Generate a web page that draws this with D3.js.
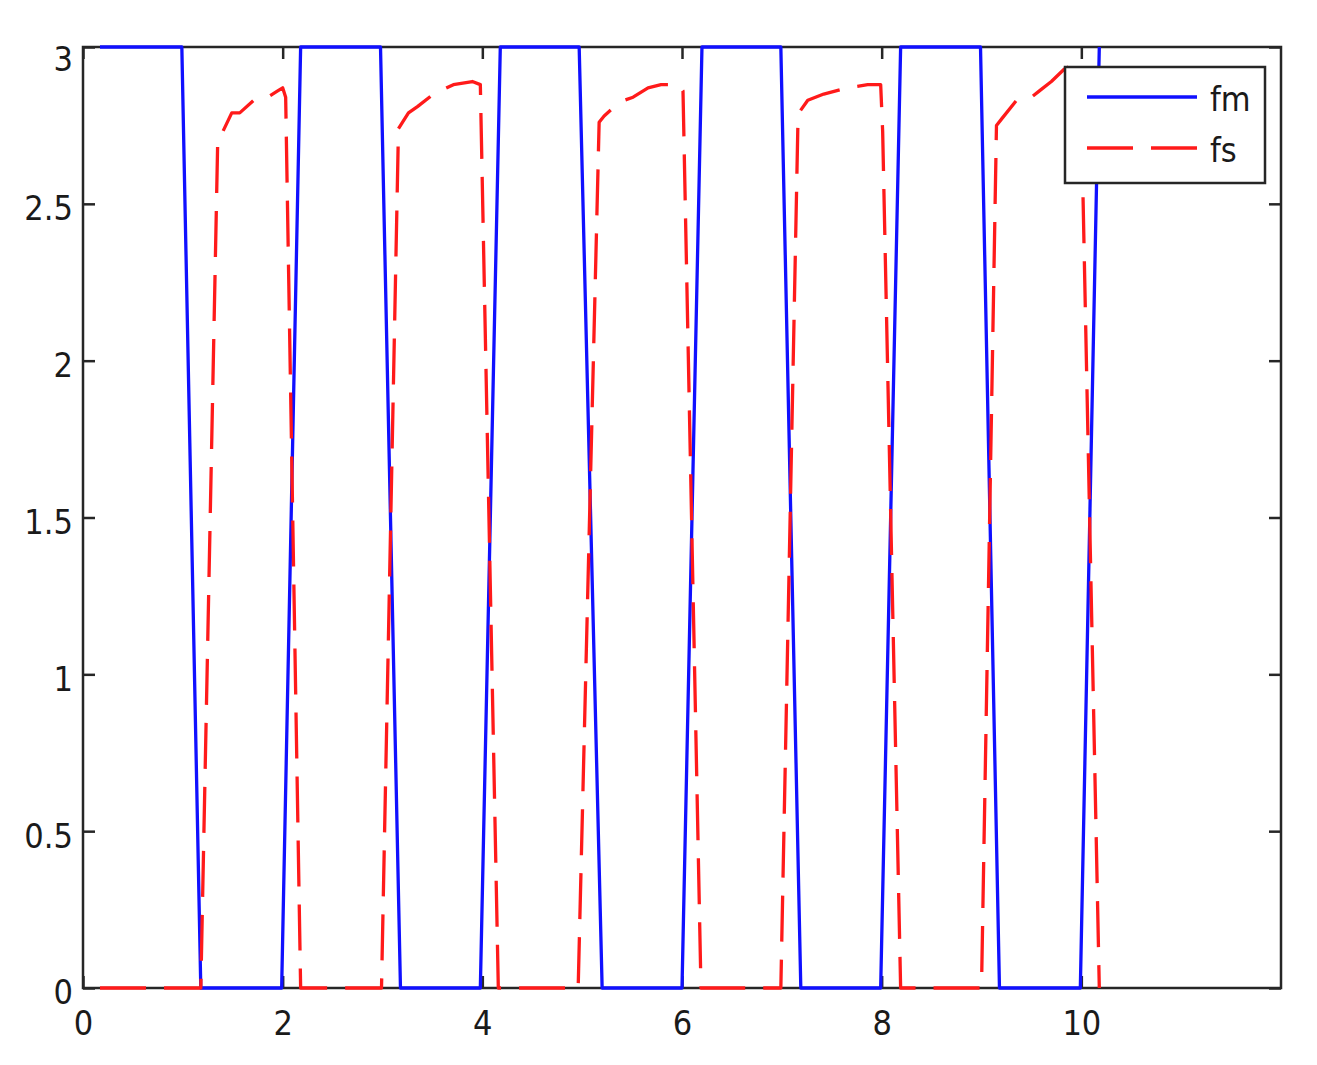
<!DOCTYPE html>
<html>
<head>
<meta charset="utf-8">
<script src="https://cdn.jsdelivr.net/npm/d3@7/dist/d3.min.js"></script>
<style>
body { margin: 0; background: #fff; }
text { font-family: "DejaVu Sans Condensed", "DejaVu Sans", sans-serif; font-stretch: condensed; fill: #1a1a1a; }
</style>
</head>
<body>
<svg id="chart" width="1317" height="1065"></svg>
<script>
var xTicks = [0, 2, 4, 6, 8, 10];
var yTicks = [0, 0.5, 1, 1.5, 2, 2.5, 3];
var seriesNames = ["fm", "fs"];

// fm : solid blue square-ish wave
var fm = [
	[0.17, 3], [0.99, 3], [1.18, 0], [1.99, 0], [2.18, 3], [2.98, 3], [3.18, 0],
	[3.98, 0], [4.18, 3], [4.97, 3], [5.20, 0], [6.00, 0], [6.20, 3], [6.99, 3],
	[7.19, 0], [7.99, 0], [8.19, 3], [8.99, 3], [9.18, 0], [9.99, 0], [10.18, 3]
];

// fs : dashed red response
var fs = [
	[0.17, 0], [1.18, 0], [1.35, 2.71], [1.40, 2.73], [1.49, 2.79], [1.57, 2.79], [1.71, 2.83],
	[1.85, 2.84], [1.95, 2.86], [2.00, 2.87], [2.03, 2.84], [2.18, 0],
	[2.99, 0], [3.16, 2.74], [3.26, 2.79], [3.35, 2.81], [3.51, 2.85], [3.71, 2.88],
	[3.90, 2.89], [3.98, 2.88], [4.16, 0],
	[4.96, 0], [5.17, 2.76], [5.22, 2.78], [5.29, 2.80], [5.42, 2.83], [5.51, 2.84],
	[5.66, 2.87], [5.79, 2.88], [5.97, 2.88], [6.01, 2.86], [6.19, 0],
	[6.99, 0], [7.16, 2.74], [7.17, 2.79], [7.26, 2.83], [7.42, 2.85], [7.66, 2.87],
	[7.86, 2.88], [7.99, 2.88], [8.01, 2.73], [8.19, 0],
	[9.00, 0], [9.15, 2.75], [9.20, 2.77], [9.35, 2.83], [9.50, 2.84], [9.58, 2.86],
	[9.70, 2.89], [9.83, 2.93], [9.97, 2.95], [9.99, 2.94], [10.18, 0]
];

var box = { left: 83, top: 47, right: 1281, bottom: 988 };
var fontSize = 34;
var axisColor = "#262626";

var svg = d3.select("#chart");

var x = d3.scaleLinear().domain([0, 12]).range([box.left, box.right]);
var y = d3.scaleLinear().domain([0, 3]).range([box.bottom, box.top]);

var styleAxis = function(g) {
	g.select(".domain").remove();
	g.selectAll(".tick line").attr("stroke", axisColor).attr("stroke-width", 2.5);
	g.selectAll(".tick text")
		.attr("fill", "#1a1a1a")
		.style("font-size", fontSize + "px");
}

// ticks on all four sides, pointing inward
svg.append("g")
	.attr("transform", "translate(0," + box.bottom + ")")
	.call(d3.axisBottom(x).tickValues(xTicks).tickSizeInner(-12).tickSizeOuter(0).tickPadding(23)
		.tickFormat(function(d) { return String(d); }))
	.call(styleAxis);

svg.append("g")
	.attr("transform", "translate(0," + box.top + ")")
	.call(d3.axisTop(x).tickValues(xTicks).tickSizeInner(-12).tickSizeOuter(0).tickFormat(""))
	.call(styleAxis);

var left = svg.append("g")
	.attr("transform", "translate(" + box.left + ",0)")
	.call(d3.axisLeft(y).tickValues(yTicks).tickSizeInner(-12).tickSizeOuter(0).tickPadding(10)
		.tickFormat(function(d) { return String(d); }))
	.call(styleAxis);
left.selectAll(".tick text")
	.attr("dy", function(d) { return d === 3 ? "0.68em" : "0.47em"; });

svg.append("g")
	.attr("transform", "translate(" + box.right + ",0)")
	.call(d3.axisRight(y).tickValues(yTicks).tickSizeInner(-12).tickSizeOuter(0).tickFormat(""))
	.call(styleAxis);

svg.append("rect")
	.attr("x", box.left)
	.attr("y", box.top)
	.attr("width", box.right - box.left)
	.attr("height", box.bottom - box.top)
	.attr("fill", "none")
	.attr("stroke", axisColor)
	.attr("stroke-width", 2.5);

var line = d3.line()
	.x(function(d) { return x(d[0]); })
	.y(function(d) { return y(d[1]); });

var series = [
	{ name: seriesNames[0], values: fm, color: "#1010ff", dash: null },
	{ name: seriesNames[1], values: fs, color: "#ff1a1a", dash: "46,18" }
];

svg.selectAll("path.series")
	.data(series)
	.enter()
	.append("path")
	.attr("class", "series")
	.attr("d", function(d) { return line(d.values); })
	.attr("fill", "none")
	.attr("stroke", function(d) { return d.color; })
	.attr("stroke-width", 3.3)
	.attr("stroke-linejoin", "round")
	.attr("stroke-dasharray", function(d) { return d.dash; });

// legend
var legend = svg.append("g").attr("transform", "translate(1065,67)");
legend.append("rect")
	.attr("width", 200)
	.attr("height", 116)
	.attr("fill", "#fff")
	.attr("stroke", axisColor)
	.attr("stroke-width", 2.5);

var items = legend.selectAll("g.item")
	.data(series)
	.enter()
	.append("g")
	.attr("class", "item")
	.attr("transform", function(d, i) { return "translate(0," + (30 + i * 51) + ")"; });

items.append("line")
	.attr("x1", 22)
	.attr("x2", 132)
	.attr("stroke", function(d) { return d.color; })
	.attr("stroke-width", 3.3)
	.attr("stroke-dasharray", function(d) { return d.dash; });

items.append("text")
	.attr("x", 145)
	.attr("y", 14)
	.style("font-size", fontSize + "px")
	.text(function(d) { return d.name; });
</script>
</body>
</html>
